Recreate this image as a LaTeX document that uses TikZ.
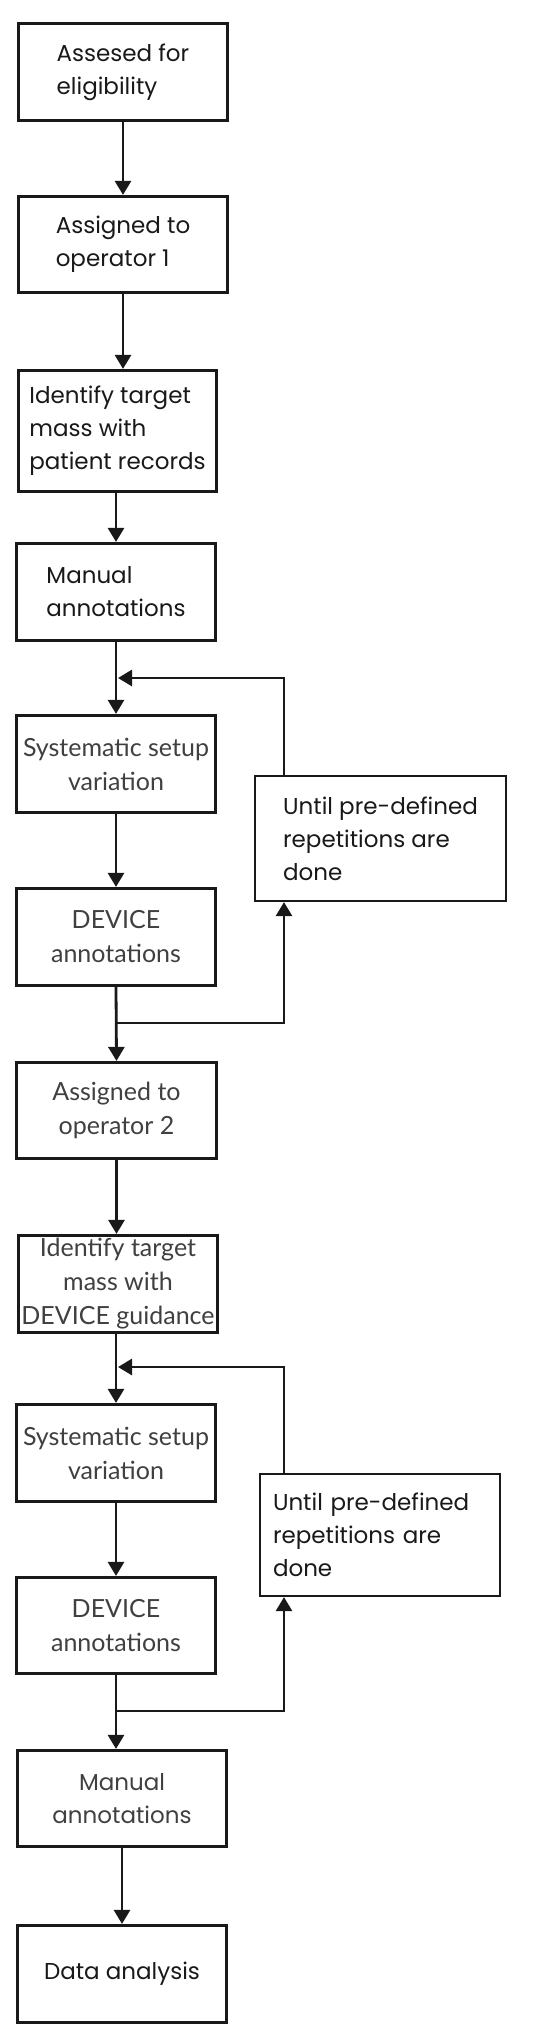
\documentclass[tikz,border=0pt]{standalone}
\usepackage{fontspec}
\setmainfont{Poppins}
\newfontfamily\gillfont{Lato}
\usetikzlibrary{arrows.meta}
\begin{document}
\begin{tikzpicture}[x=1pt,y=-1pt,
  box/.style={draw=black!90, line width=3.2pt, rectangle, inner sep=0pt,
    font=\fontsize{23}{33}\selectfont, text=black!90},
  gbox/.style={box, font=\gillfont\fontsize{25}{34}\selectfont, text=black!75, align=center},
  rbox/.style={draw=black!90, line width=2.2pt, rectangle, inner sep=0pt,
    font=\fontsize{23}{33}\selectfont, text=black!90, align=left},
  conn/.style={draw=black!90, line width=2.8pt, -{Triangle[width=16pt,length=14pt]}}]
\useasboundingbox[fill=white] (0,0) rectangle (550,2039);

\node[box, align=left, minimum width=209pt, minimum height=97pt] (b1) at (123,72) {Assesed for\\eligibility};
\node[box, align=left, minimum width=209pt, minimum height=96pt] (b2) at (123,244.5) {Assigned to\\operator 1};
\node[box, align=left, minimum width=198pt, minimum height=121pt] (b3) at (117.5,431) {Identify target\\mass with\\patient records};
\node[box, align=left, minimum width=199pt, minimum height=97pt] (b4) at (116,592) {Manual\\annotations};
\node[gbox, minimum width=199pt, minimum height=97pt] (b5) at (116,764) {Systematic setup\\variation};
\node[rbox, minimum width=251pt, minimum height=125pt] (r1) at (380.5,838.5) {Until pre-defined\\repetitions are\\done};
\node[gbox, minimum width=199pt, minimum height=97pt] (b6) at (116,937) {DEVICE\\annotations};
\node[gbox, minimum width=200pt, minimum height=96pt] (b7) at (116.5,1110.5) {Assigned to\\operator 2};
\node[gbox, minimum width=199pt, minimum height=97pt] (b8) at (118,1284) {Identify target\\mass with\\DEVICE guidance};
\node[gbox, minimum width=199pt, minimum height=97pt] (b9) at (116,1453) {Systematic setup\\variation};
\node[rbox, minimum width=240pt, minimum height=122pt, text width=214pt] (r2) at (380,1535) {Until pre-defined\\repetitions are\\done};
\node[gbox, minimum width=199pt, minimum height=96pt] (b10) at (116,1625.5) {DEVICE\\annotations};
\node[box, align=center, text=black!75, minimum width=209pt, minimum height=96pt] (b11) at (122,1798.5) {Manual\\annotations};
\node[box, align=center, minimum width=209pt, minimum height=97pt] (b12) at (122,1974) {Data analysis};

\coordinate (j1) at (116,678);
\coordinate (j1r) at (284,678);
\coordinate (j2) at (116,1023);
\coordinate (j2r) at (284,1023);
\coordinate (j3) at (116,1367);
\coordinate (j3r) at (284,1367);
\coordinate (j4) at (116,1711);
\coordinate (j4r) at (284,1711);

\draw[conn] (b1.south) -- (b2.north);
\draw[conn] (b2.south) -- (b2.south |- b3.north);
\draw[conn] (b3.south -| b4.north) -- (b4.north);
\draw[conn] (b4.south) -- (b5.north);
\draw[conn] (r1.north -| j1r) -- (j1r) -- ([xshift=2pt]j1);
\draw[conn] (b5.south) -- (b6.north);
\draw[conn] (b6.south) -- (b7.north);
\draw[conn] (j2) -- (j2r) -- (r1.south -| j2r);
\draw[conn] (b7.south) -- (b7.south |- b8.north);
\draw[conn] (b8.south -| b9.north) -- (b9.north);
\draw[conn] (r2.north -| j3r) -- (j3r) -- ([xshift=2pt]j3);
\draw[conn] (b9.south) -- (b10.north);
\draw[conn] (j4) -- (j4r) -- (r2.south -| j4r);
\draw[conn] (b10.south) -- (b10.south |- b11.north);
\draw[conn] (b11.south) -- (b12.north);
\end{tikzpicture}
\end{document}
